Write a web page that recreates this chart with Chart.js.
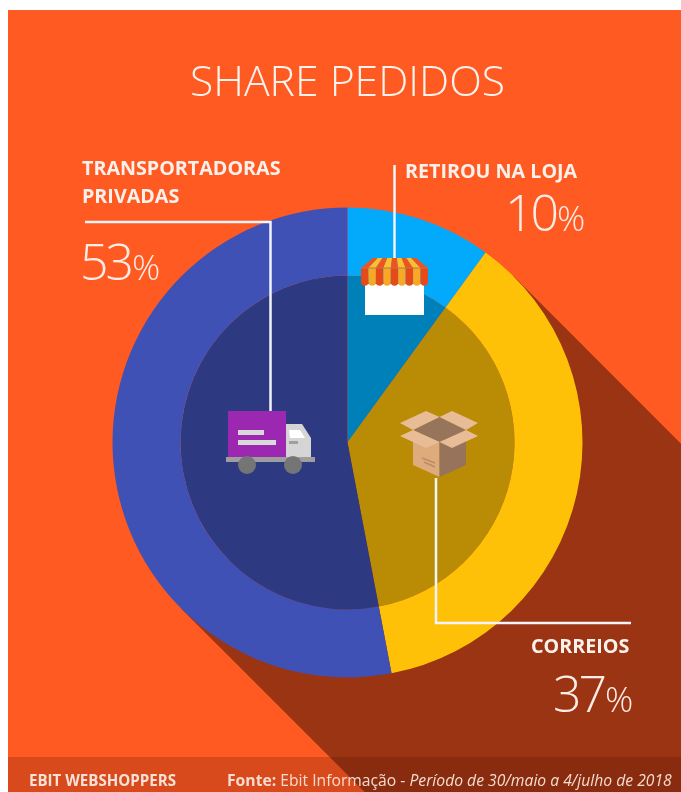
<!DOCTYPE html>
<html><head><meta charset="utf-8">
<script src="https://cdn.jsdelivr.net/npm/chart.js@4"></script>
<style>
html,body{margin:0;padding:0;background:#fff;width:681px;height:792px;overflow:hidden}
#bg{position:absolute;left:8px;top:10px;width:673px;height:782px;background:#FF5A22}
canvas{position:absolute;left:0;top:0}
.t{position:absolute;color:#fff;white-space:nowrap;font-family:"Open Sans",sans-serif}
.lab{font-weight:700;font-size:19.7px;line-height:28px;color:#FBF1EC}
.pct{font-weight:300;font-size:50px;line-height:50px;letter-spacing:-3px;color:#FCEDE6}
.pct small{font-size:35px;letter-spacing:0;margin-left:1px}
.foot{font-size:15.7px;line-height:18px;color:#F6DCD0}
</style></head><body>
<div id="bg"></div>
<canvas id="c" width="681" height="792"></canvas>
<div class="t" id="title" style="left:190px;top:51px;font-weight:300;font-size:42.7px;line-height:58px;color:#FDF3EE">SHARE PEDIDOS</div>
<div class="t lab" style="left:82px;top:154px">TRANSPORTADORAS<br>PRIVADAS</div>
<div class="t pct" style="left:80px;top:236px">53<small>%</small></div>
<div class="t lab" style="left:405px;top:157px">RETIROU NA LOJA</div>
<div class="t pct" style="left:505px;top:187px">10<small>%</small></div>
<div class="t lab" style="left:531px;top:632px">CORREIOS</div>
<div class="t pct" style="left:553px;top:668px">37<small>%</small></div>
<div class="t foot" style="left:29px;top:771px;font-weight:700;font-size:15.1px;color:#F8E2D8">EBIT WEBSHOPPERS</div>
<div class="t foot" style="left:227px;top:771px"><b>Fonte:</b> Ebit Informação - <i>Período de 30/maio a 4/julho de 2018</i></div>
<script>
const categories = ['Retirou na loja', 'Correios', 'Transportadoras privadas'];
const shares = [10, 37, 53];
const ringColors = ['#03A9FA', '#FFC107', '#3F51B5'];
const coreColors = ['#0080B8', '#BA8C05', '#2D3A82'];

function poly(ctx, pts, fill) {
  ctx.fillStyle = fill; ctx.beginPath();
  pts.forEach((p, i) => i ? ctx.lineTo(p[0], p[1]) : ctx.moveTo(p[0], p[1]));
  ctx.closePath(); ctx.fill();
}
function rect(ctx, x, y, w, h, fill) { ctx.fillStyle = fill; ctx.fillRect(x, y, w, h); }
function segLine(ctx, pts) {
  ctx.strokeStyle = '#F1F4FB'; ctx.lineWidth = 2.5; ctx.lineJoin = 'miter';
  ctx.beginPath();
  pts.forEach((p, i) => i ? ctx.lineTo(p[0], p[1]) : ctx.moveTo(p[0], p[1]));
  ctx.stroke();
}

const backdrop = {
  id: 'backdrop',
  beforeDatasetsDraw(chart) {
    const ctx = chart.ctx, arc = chart.getDatasetMeta(0).data[0];
    const cx = arc.x, cy = arc.y, r = arc.outerRadius, k = r * Math.SQRT1_2, far = 800;
    ctx.save();
    ctx.beginPath(); ctx.rect(8, 10, 673, 782); ctx.clip();
    poly(ctx, [[cx + k, cy - k], [cx + k + far, cy - k + far], [cx - k + far, cy + k + far], [cx - k, cy + k]], '#9B3413');
    ctx.fillStyle = 'rgba(60,10,0,0.2)';
    ctx.fillRect(8, 757, 673, 35);
    ctx.restore();
  },
  afterDatasetsDraw(chart) {
    const ctx = chart.ctx;
    ctx.save();
    // leader lines
    segLine(ctx, [[394.5, 165], [394.5, 260]]);
    segLine(ctx, [[85, 222], [270.5, 222], [270.5, 412]]);
    segLine(ctx, [[436, 478], [436, 623], [631, 623]]);

    // store
    rect(ctx, 365, 284, 59, 31, '#FFFFFF');
    const n = 9, x0 = 361, x1 = 428, tx0 = 373, tx1 = 416, top = 258, mid = 268, bot = 282;
    for (let i = 0; i < n; i++) {
      const col = i % 2 ? '#FBC02D' : '#F4511E';
      const col2 = i % 2 ? '#F9A825' : '#E64A19';
      const a = x0 + (x1 - x0) * i / n, b = x0 + (x1 - x0) * (i + 1) / n;
      const ta = tx0 + (tx1 - tx0) * i / n, tb = tx0 + (tx1 - tx0) * (i + 1) / n;
      poly(ctx, [[ta, top], [tb, top], [b, mid], [a, mid]], col);
      rect(ctx, a, mid, b - a, bot - mid, col2);
      ctx.fillStyle = col2; ctx.beginPath();
      ctx.arc((a + b) / 2, bot, (b - a) / 2, 0, Math.PI); ctx.fill();
    }
    rect(ctx, x0, mid - 0.5, x1 - x0, 1, '#B7794A');

    // truck
    rect(ctx, 228, 411, 58, 46, '#9C27B0');
    rect(ctx, 238, 430, 26, 5, '#D9D9D9');
    rect(ctx, 238, 440, 38, 5, '#D9D9D9');
    poly(ctx, [[286, 424], [302, 424], [311, 438], [311, 457], [286, 457]], '#D5D5D5');
    poly(ctx, [[289, 430], [300, 430], [305, 438], [290, 438]], '#FFFFFF');
    rect(ctx, 289, 441, 9, 3, '#9AA0A6');
    rect(ctx, 226, 457, 89, 5, '#9E9E9E');
    ctx.fillStyle = '#757575';
    [247, 293].forEach(x => { ctx.beginPath(); ctx.arc(x, 465, 9, 0, 2 * Math.PI); ctx.fill(); });

    // box
    poly(ctx, [[413, 430], [439.5, 442], [439.5, 477], [413, 465]], '#DDAB7C');
    poly(ctx, [[439.5, 442], [466, 430], [466, 465], [439.5, 477]], '#96735A');
    poly(ctx, [[413, 430], [439.5, 417], [466, 430], [439.5, 442]], '#96755A');
    const flap = '#E8BC96';
    poly(ctx, [[400, 423], [426, 411], [439.5, 417], [413, 430]], flap);
    poly(ctx, [[439.5, 417], [452, 411], [478, 423], [466, 430]], flap);
    poly(ctx, [[400, 436], [413, 430], [439.5, 442], [426, 448]], flap);
    poly(ctx, [[439.5, 442], [466, 430], [478, 436], [452, 448]], flap);
    ctx.strokeStyle = '#B98D66'; ctx.lineWidth = 1.5;
    ctx.beginPath();
    ctx.moveTo(422, 458); ctx.lineTo(435, 463);
    ctx.moveTo(424, 462); ctx.lineTo(435, 467);
    ctx.stroke();
    ctx.restore();
  }
};

new Chart(document.getElementById('c'), {
  type: 'doughnut',
  data: {
    labels: categories,
    datasets: [
      { data: shares, backgroundColor: ringColors, borderWidth: 0, weight: 68 },
      { data: shares, backgroundColor: coreColors, borderWidth: 0, weight: 167 }
    ]
  },
  options: {
    responsive: false,
    animation: false,
    cutout: 0,
    layout: { padding: { left: 112.5, right: 98.5, top: 207.5, bottom: 114.5 } },
    plugins: { legend: { display: false }, tooltip: { enabled: false }, title: { display: false } }
  },
  plugins: [backdrop]
});
</script>
</body></html>
